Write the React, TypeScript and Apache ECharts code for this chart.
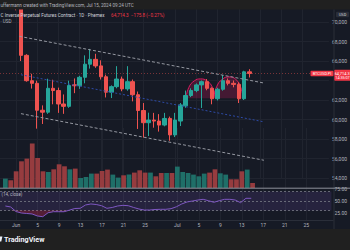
import React, { useEffect, useRef } from 'react';
import * as echarts from 'echarts';

// ---- daily candles, 30 May – 15 Jul 2024 ----
const firstCandleDay = '2024-05-30';
const opens = [72800, 73300, 72600, 71500, 66580, 63980, 63710, 60950, 60750, 63200, 62970, 61590, 61350, 63560, 63460, 64330, 65670, 66170, 65500, 64380, 62800, 63370, 64150, 63140, 63880, 62540, 60920, 59670, 59940, 59840, 59430, 60110, 58420, 59840, 61400, 62460, 62970, 63550, 63880, 63200, 62130, 63100, 63980, 63710, 63600, 62130, 64890.1];
const closes = [73300, 72600, 71500, 66580, 63980, 63710, 60950, 60750, 63200, 62970, 61590, 61350, 63480, 63460, 64330, 65670, 66170, 65500, 64380, 62800, 63370, 64150, 63140, 63880, 62540, 60920, 59670, 59940, 59840, 59430, 60110, 58420, 59940, 61500, 62460, 62970, 63550, 63880, 63200, 62130, 63100, 63980, 63710, 63600, 62130, 64890.1, 64714.3];
const lows = [72400, 72300, 71200, 66000, 63880, 63170, 59060, 59540, 60580, 61560, 60680, 60580, 61200, 62700, 63140, 63710, 65220, 65300, 64100, 62260, 62200, 63200, 62900, 62950, 61860, 59030, 58150, 58300, 59160, 58760, 59300, 57820, 58200, 59330, 61200, 62300, 62800, 61180, 63000, 61560, 61950, 62950, 63500, 63300, 61690, 62000, 64310];
const highs = [73600, 73700, 72900, 71800, 66700, 64690, 63980, 61450, 64180, 64080, 63270, 62570, 63980, 64210, 64480, 66580, 67240, 66740, 66070, 64600, 63500, 65470, 64400, 65470, 64100, 62870, 61690, 60700, 60680, 60550, 60680, 60300, 60680, 61690, 62970, 63200, 63700, 64000, 64150, 63300, 63250, 64560, 64210, 64000, 63800, 65000, 65160];
// volume, thousands
const volumes = [9.4, 7.7, 16.7, 26.7, 29.4, 44.4, 30, 16.7, 16, 18.7, 23.7, 21.7, 18.7, 19.4, 10, 11, 14.4, 14.4, 17, 18.4, 13.4, 10.4, 12.7, 13.4, 15.4, 17.7, 15.4, 15.4, 11.7, 15, 15, 15, 21.4, 16, 15, 13.4, 11.7, 14.4, 15.4, 18.7, 14.7, 13.4, 8.7, 8.7, 16.7, 18.4, 5];
// RSI(14, close)
const rsi = [39.6, 37.5, 28, 25, 24, 23, 18.8, 17.3, 25.6, 27.7, 27.7, 27.7, 31, 34.4, 34.8, 41.7, 43.8, 42.7, 40.2, 34.8, 36.5, 39.6, 41, 40.2, 36.5, 33.3, 31.2, 31.2, 32.3, 32.7, 32.7, 34, 38, 43.8, 48, 50, 52, 53.5, 50.6, 47.3, 50.6, 53.5, 53.5, 52, 46.5, 55.6, 55.6];

// ---- time scale ----
const axisStartDay = '2024-05-29';
const axisDayCount = 63;
const tickDates = ['2024-06-01', '2024-06-05', '2024-06-09', '2024-06-13', '2024-06-17', '2024-06-21', '2024-06-25', '2024-07-01', '2024-07-05', '2024-07-09', '2024-07-13', '2024-07-17', '2024-07-21', '2024-07-25'];
const tickTexts = ['Jun', '5', '9', '13', '17', '21', '25', 'Jul', '5', '9', '13', '17', '21', '25'];

// ---- drawings: [days since 29 May, price] ----
const channelUpper = [[3.65, 68530], [49.74, 63740]];
const channelMiddle = [[3.95, 64590], [49.74, 59760]];
const channelLower = [[3.95, 60600], [49.74, 55820]];
const patternBase = 62190;
const patternLeft = [[35.05, 62190], [35.6, 63300], [36.62, 63960], [37.81, 64160], [39.01, 63960], [40.03, 63300], [40.58, 62190]];
const patternRight = [[40.21, 62190], [40.86, 63400], [41.87, 64110], [43.16, 64370], [44.45, 64110], [45.37, 63300], [45.83, 62090]];

const FONT = 'Roboto, "Liberation Sans", Arial, sans-serif';
const UP = '#26a69a';
const DOWN = '#ef5350';
const GRIDLINE = '#20242f';
const TEXT = '#b2b5be';

function dayString(start: string, offset: number): string {
  const d = new Date(start + 'T00:00:00Z');
  d.setUTCDate(d.getUTCDate() + offset);
  return d.toISOString().slice(0, 10);
}

const axisDates = Array.from({ length: axisDayCount }, (_, i) => dayString(axisStartDay, i));
const candleDates = opens.map((_, i) => dayString(firstCandleDay, i));
const tickSet = new Set(tickDates);
const isTick = (i: number) => tickSet.has(axisDates[i]);

const lastClose = closes[closes.length - 1];
const prevClose = closes[closes.length - 2];
const change = lastClose - prevClose;
const changePct = (change / prevClose) * 100;
const fmt1 = (v: number) => v.toLocaleString('en-US', { minimumFractionDigits: 1, maximumFractionDigits: 1 });
const signed = (s: string, v: number) => (v < 0 ? '\u2212' : '+') + s;

export default function App() {
  const ref = useRef<HTMLDivElement>(null);

  useEffect(() => {
    document.body.style.margin = '0';
    if (!ref.current) return;
    const chart = echarts.init(ref.current, undefined, { renderer: 'svg' });

    const gridPos = { left: -3.1, right: 16.8 };
    const catAxis = { type: 'category', data: axisDates, boundaryGap: false };

    chart.setOption({
      animation: false,
      backgroundColor: '#161a25',
      textStyle: { fontFamily: FONT },
      grid: [
        { ...gridPos, top: 0, height: 178 },
        { ...gridPos, top: 128, height: 60 },
        { ...gridPos, top: 189, height: 36 },
        { ...gridPos, top: 188.5, height: 31.5 },
      ],
      xAxis: [
        { ...catAxis, gridIndex: 0, axisLine: { show: false }, axisTick: { show: false }, axisLabel: { show: false },
          splitLine: { show: true, interval: isTick, lineStyle: { color: GRIDLINE, width: 1 } } },
        { ...catAxis, gridIndex: 1, axisLine: { show: false }, axisTick: { show: false }, axisLabel: { show: false },
          splitLine: { show: true, interval: isTick, lineStyle: { color: GRIDLINE, width: 1 } } },
        { ...catAxis, gridIndex: 2, show: false },
        { ...catAxis, gridIndex: 3, axisLine: { show: true, lineStyle: { color: '#2a2e39' } }, axisTick: { show: false },
          axisLabel: {
            interval: isTick, color: TEXT, fontSize: 5, margin: 2.5, fontFamily: FONT,
            formatter: (v: string) => tickTexts[tickDates.indexOf(v)] ?? '',
          },
          splitLine: { show: true, interval: isTick, lineStyle: { color: GRIDLINE, width: 1 } } },
        { type: 'value', gridIndex: 0, min: 0, max: axisDayCount - 1, show: false },
      ],
      yAxis: [
        { type: 'value', gridIndex: 0, position: 'right', min: 54000, max: 72000, interval: 2000,
          axisLine: { show: false }, axisTick: { show: false },
          axisLabel: {
            color: TEXT, fontSize: 5, margin: 3, fontFamily: FONT,
            formatter: (v: number) => (Math.abs(v - lastClose) < 1200 ? '' : v.toLocaleString('en-US')),
          },
          splitLine: { lineStyle: { color: GRIDLINE, width: 1 } } },
        { type: 'value', gridIndex: 1, min: 0, max: 60, show: false },
        { type: 'value', gridIndex: 2, position: 'right', min: 0, max: 75, interval: 25,
          axisLine: { show: false }, axisTick: { show: false }, splitLine: { show: false },
          axisLabel: { color: TEXT, fontSize: 5, margin: 3, fontFamily: FONT,
            formatter: (v: number) => (v === 0 ? '' : v.toFixed(2)) } },
        { type: 'value', gridIndex: 3, min: 0, max: 1, show: false },
      ],
      series: [
        {
          name: 'Volume', type: 'bar', xAxisIndex: 1, yAxisIndex: 1, barWidth: '88%', z: 3,
          data: volumes.map((v, i) => ({
            value: [candleDates[i], v],
            itemStyle: { color: closes[i] >= opens[i] ? '#1f6f68' : '#963c3f' },
          })),
        },
        {
          name: 'BTCUSD.PI', type: 'candlestick', xAxisIndex: 0, yAxisIndex: 0, z: 10, barWidth: 4,
          encode: { x: 0, y: [1, 2, 3, 4] },
          data: opens.map((o, i) => [candleDates[i], o, closes[i], lows[i], highs[i]]),
          itemStyle: { color: UP, color0: DOWN, borderColor: UP, borderColor0: DOWN, borderWidth: 1 },
          markLine: {
            silent: true, symbol: ['none', 'none'], label: { show: false },
            lineStyle: { color: 'rgba(239,83,80,0.45)', type: [1, 2], width: 1 },
            data: [{ yAxis: lastClose }],
          },
        },
        ...[
          { d: channelUpper, c: '#9598a1', t: [3, 2] },
          { d: channelMiddle, c: '#2d4aa6', t: [2, 2] },
          { d: channelLower, c: '#9598a1', t: [3, 2] },
        ].map((l) => ({
          type: 'line', xAxisIndex: 4, yAxisIndex: 0, z: 12, data: l.d, symbol: 'none', silent: true,
          lineStyle: { color: l.c, width: 1, type: l.t },
        })),
        ...[patternLeft, patternRight].map((d) => ({
          type: 'line', xAxisIndex: 4, yAxisIndex: 0, z: 9, data: d, symbol: 'none', smooth: 0.5, silent: true,
          lineStyle: { color: '#d81b60', width: 1 },
          areaStyle: { color: 'rgba(216,27,96,0.34)', origin: patternBase },
        })),
        {
          type: 'line', xAxisIndex: 2, yAxisIndex: 2, z: 9, stack: 'oversold', symbol: 'none', silent: true,
          lineStyle: { opacity: 0 },
          data: rsi.map((v, i) => [candleDates[i], Math.min(v, 30)]),
        },
        {
          type: 'line', xAxisIndex: 2, yAxisIndex: 2, z: 9, stack: 'oversold', symbol: 'none', silent: true,
          lineStyle: { opacity: 0 },
          areaStyle: { color: 'rgba(220,40,90,0.45)' },
          data: rsi.map((v, i) => [candleDates[i], 30 - Math.min(v, 30)]),
        },
        {
          name: 'RSI', type: 'line', xAxisIndex: 2, yAxisIndex: 2, z: 10, symbol: 'none',
          lineStyle: { color: '#7e57c2', width: 1 },
          data: rsi.map((v, i) => [candleDates[i], v]),
          markArea: {
            silent: true, itemStyle: { color: 'rgba(126,87,194,0.16)' },
            data: [[{ yAxis: 70 }, { yAxis: 30 }]],
          },
          markLine: {
            silent: true, symbol: ['none', 'none'], label: { show: false },
            lineStyle: { color: '#787b86', type: [2, 2], width: 0.8 },
            data: [{ yAxis: 70 }, { yAxis: 50 }, { yAxis: 30 }],
          },
        },
      ],
    });

    const py = chart.convertToPixel({ yAxisIndex: 0 }, lastClose) as number;
    const titleMain = 'C Inverse Perpetual Futures Contract \u00b7 1D \u00b7 Phemex';
    const titleValues = `${fmt1(lastClose)}  ${signed(fmt1(Math.abs(change)), change)} (${signed(Math.abs(changePct).toFixed(2), change)}%)`;

    chart.setOption({
      graphic: [
        { type: 'rect', z: 100, silent: true, shape: { x: 0, y: 0, width: 350, height: 9.5 }, style: { fill: '#202020' } },
        { type: 'text', z: 101, silent: true, x: 0.5, y: 5,
          style: { text: 'uffermann created with TradingView.com, Jul 15, 2024 09:24 UTC', fill: TEXT,
            font: `4.6px ${FONT}`, verticalAlign: 'middle' } },
        { type: 'text', z: 101, silent: true, x: 0.5, y: 15.2,
          style: {
            text: `{a|${titleMain}}  {b|${titleValues}}`, verticalAlign: 'middle',
            rich: {
              a: { fill: '#d1d4dc', font: `4.6px ${FONT}` },
              b: { fill: '#f23645', font: `4.6px ${FONT}` },
            },
          } },
        { type: 'text', z: 101, silent: true, x: 0.5, y: 21,
          style: { text: '\u00b7 USD', fill: TEXT, font: `4.6px ${FONT}`, verticalAlign: 'middle' } },
        { type: 'rect', z: 101, silent: true, shape: { x: 336, y: 11.7, width: 13, height: 5.6, r: 1 }, style: { fill: '#2a2e39' } },
        { type: 'text', z: 102, silent: true, x: 342.5, y: 14.5,
          style: { text: 'USD', fill: '#d1d4dc', font: `4px ${FONT}`, align: 'center', verticalAlign: 'middle' } },
        { type: 'line', z: 100, silent: true, shape: { x1: 334, y1: 9.5, x2: 334, y2: 229 }, style: { stroke: '#2a2e39', lineWidth: 1 } },
        { type: 'line', z: 100, silent: true, shape: { x1: 0, y1: 188.2, x2: 350, y2: 188.2 }, style: { stroke: '#8f929b', lineWidth: 1 } },
        { type: 'text', z: 101, silent: true, x: 1.5, y: 194,
          style: { text: '(14, close)', fill: TEXT, font: `4.5px ${FONT}`, verticalAlign: 'middle' } },
        // symbol label and last-price tag on the price scale
        { type: 'rect', z: 101, silent: true, shape: { x: 310.5, y: py - 2.7, width: 23, height: 5.4, r: 0.8 }, style: { fill: '#f23645' } },
        { type: 'text', z: 102, silent: true, x: 322, y: py,
          style: { text: 'BTCUSD.PI', fill: '#ffffff', font: `3.8px ${FONT}`, align: 'center', verticalAlign: 'middle' } },
        { type: 'rect', z: 101, silent: true, shape: { x: 334.3, y: py - 3.7, width: 18, height: 11, r: 0.8 }, style: { fill: '#f23645' } },
        { type: 'text', z: 102, silent: true, x: 349.6, y: py,
          style: { text: fmt1(lastClose), fill: '#ffffff', font: `3.9px ${FONT}`, align: 'right', verticalAlign: 'middle' } },
        { type: 'text', z: 102, silent: true, x: 349.6, y: py + 4.4,
          style: { text: '14:35:07', fill: '#ffffff', font: `3.7px ${FONT}`, align: 'right', verticalAlign: 'middle' } },
        // footer
        { type: 'rect', z: 100, silent: true, shape: { x: 0, y: 229, width: 350, height: 21 }, style: { fill: '#202020' } },
        { type: 'polygon', z: 101, silent: true, shape: { points: [[0, 236.6], [2.4, 236.6], [1.3, 241.4], [0, 241.4]] }, style: { fill: '#f0f3fa' } },
        { type: 'text', z: 101, silent: true, x: 4, y: 239.3,
          style: { text: 'TradingView', fill: '#f0f3fa', font: `bold 7.2px ${FONT}`, verticalAlign: 'middle' } },
      ],
    });

    return () => chart.dispose();
  }, []);

  return <div ref={ref} style={{ width: 350, height: 250 }} />;
}
